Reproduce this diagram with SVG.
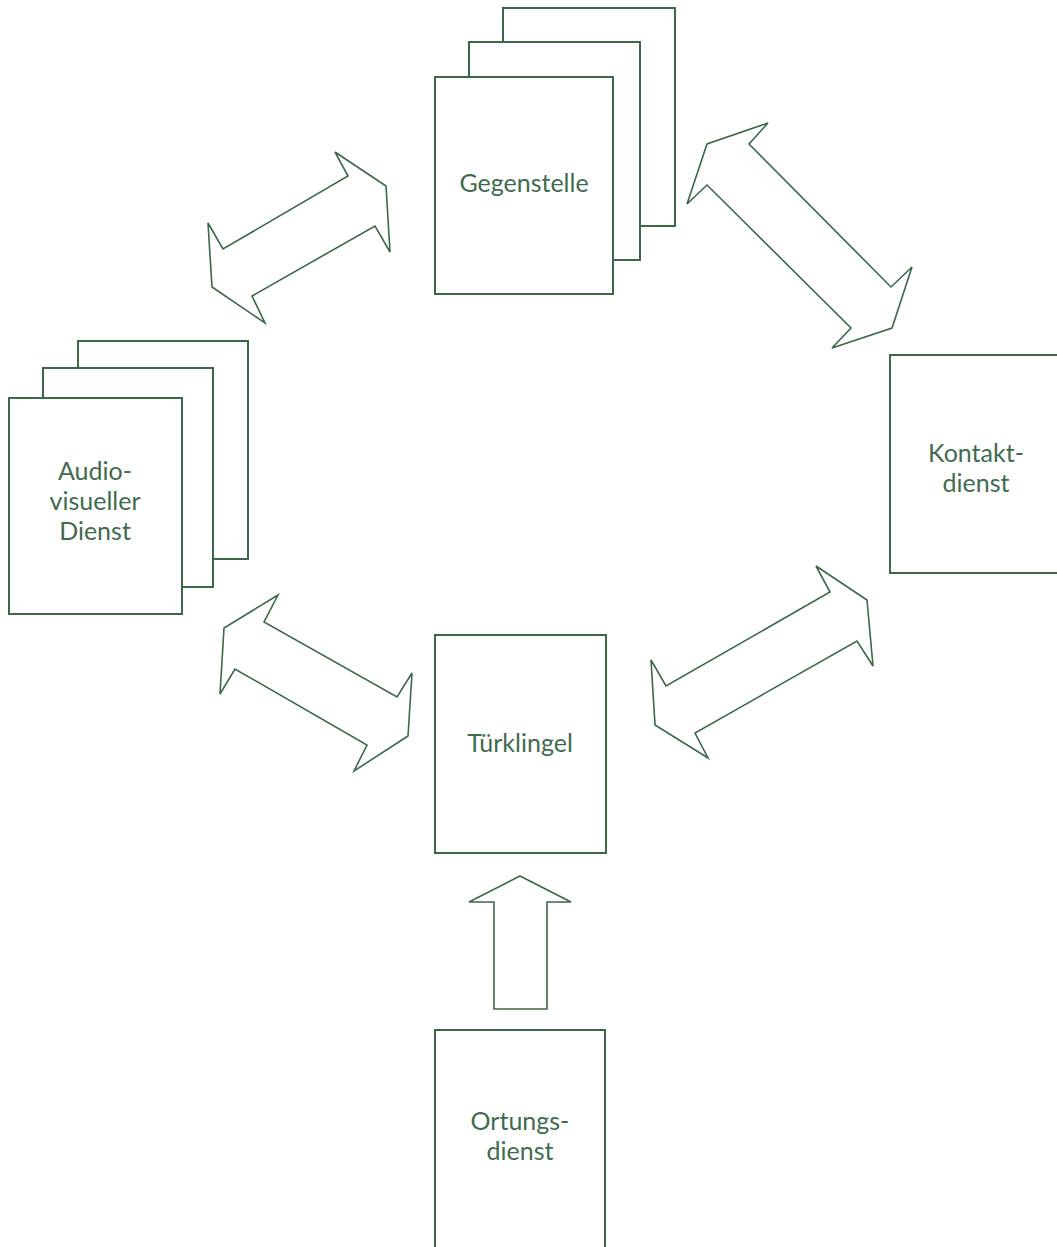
<svg xmlns="http://www.w3.org/2000/svg" width="1057" height="1247" viewBox="0 0 1057 1247">
<style>
.box{fill:#ffffff;stroke:#3b6849;stroke-width:2}
.arr{fill:#ffffff;stroke:#3b6849;stroke-width:1.6;stroke-linejoin:miter}
.lbl{font-family:Lato,"Open Sans","Liberation Sans",sans-serif;font-size:25px;fill:#3f6c4e;text-anchor:middle}
</style>
<rect width="1057" height="1247" fill="#ffffff"/>
<g id="connectors">
<polygon class="arr" points="335,152 348,176 223,249 208,223 212,287 265,323 252,296 375,226 390,252 386,186"/>
<polygon class="arr" points="768,123 749,144 891,287 912,267 892,328 832,348 851,328 707,185 687,204 707,144"/>
<polygon class="arr" points="278,595 264,622 397,697 412,673 408,736 354,771 367,745 235,669 220,694 224,628"/>
<polygon class="arr" points="816,566 830,592 666,686 651,660 655,725 708,758 695,733 857,641 873,666 867,600"/>
<polygon class="arr" points="520,876 571,902 547,902 547,1009 494,1009 494,902 469,902"/>
</g>
<g id="gegenstelle">
<rect class="box" x="503" y="8" width="172" height="218"/>
<rect class="box" x="469" y="42" width="171" height="218"/>
<rect class="box" x="435" y="77" width="178" height="217"/>
<text class="lbl" x="524" y="192">Gegenstelle</text>
</g>
<g id="audiovisueller-dienst">
<rect class="box" x="78" y="341" width="170" height="218"/>
<rect class="box" x="43" y="368" width="170" height="219"/>
<rect class="box" x="9" y="398" width="173" height="216"/>
<text class="lbl" x="95" y="480">Audio-</text>
<text class="lbl" x="95" y="510">visueller</text>
<text class="lbl" x="95" y="540">Dienst</text>
</g>
<g id="kontaktdienst">
<rect class="box" x="890" y="355" width="172" height="218"/>
<text class="lbl" x="976" y="462">Kontakt-</text>
<text class="lbl" x="976" y="492">dienst</text>
</g>
<g id="tuerklingel">
<rect class="box" x="435" y="635" width="171" height="218"/>
<text class="lbl" x="520" y="752">Türklingel</text>
</g>
<g id="ortungsdienst">
<rect class="box" x="435" y="1030" width="170" height="218"/>
<text class="lbl" x="520" y="1130">Ortungs-</text>
<text class="lbl" x="520" y="1160">dienst</text>
</g>
</svg>
